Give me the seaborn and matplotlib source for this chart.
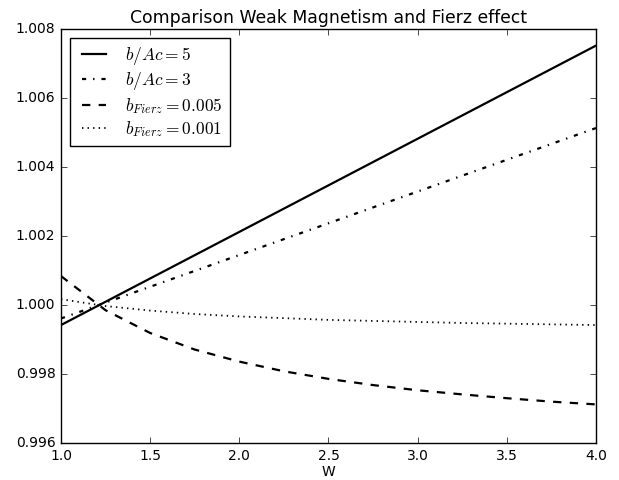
import numpy as np
import pandas as pd
import matplotlib
matplotlib.use("Agg")
import matplotlib.pyplot as plt
import seaborn as sns

# values
w_lin = [1.0, 2.0, 3.0, 4.0]
wm_5 = [0.99942, 1.00212, 1.00482, 1.00752]
wm_3 = [0.99961, 1.00145, 1.00329, 1.00513]

w_fierz = [1.0, 1.25, 1.5, 1.75, 2.0, 2.25, 2.5, 2.75, 3.0, 3.25, 3.5, 3.75, 4.0]
fierz_005 = [1.00084, 0.99985, 0.99919, 0.99871, 0.99836, 0.99808, 0.99786,
             0.99768, 0.99753, 0.99741, 0.99730, 0.99720, 0.99712]
fierz_001 = [1.00017, 0.99997, 0.99984, 0.99974, 0.99967, 0.99962, 0.99957,
             0.99954, 0.99951, 0.99948, 0.99946, 0.99944, 0.99942]

plt.style.use("classic")
plt.rcParams['font.family'] = ['DejaVu Sans']
plt.rcParams['mathtext.fontset'] = 'cm'

fig = plt.figure(figsize=(6.19, 4.8), dpi=100, facecolor='white')
ax = fig.add_axes([0.0985, 0.077, 0.8643, 0.8625])

sns.lineplot(x=w_lin, y=wm_5, ax=ax, color='black', lw=1.6, linestyle='-', label=r'$b/Ac=5$')
sns.lineplot(x=w_lin, y=wm_3, ax=ax, color='black', lw=1.6, linestyle='-.', label=r'$b/Ac=3$')
sns.lineplot(x=w_fierz, y=fierz_005, ax=ax, color='black', lw=1.6, linestyle='--', label=r'$b_{Fierz}=0.005$')
sns.lineplot(x=w_fierz, y=fierz_001, ax=ax, color='black', lw=1.3, linestyle=':', label=r'$b_{Fierz}=0.001$')

ax.set_xlim(1.0, 4.0)
ax.set_ylim(0.996, 1.008)
ax.set_xticks([1.0, 1.5, 2.0, 2.5, 3.0, 3.5, 4.0])
ax.set_yticks([0.996, 0.998, 1.000, 1.002, 1.004, 1.006, 1.008])
ax.ticklabel_format(useOffset=False)
ax.set_xlabel('W', fontsize=10, labelpad=2)
ax.set_ylabel('')
ax.set_title('Comparison Weak Magnetism and Fierz effect', fontsize=12.4, pad=4)
ax.tick_params(labelsize=10)
ax.legend(loc='upper left', fontsize=12.5, fancybox=False, labelspacing=0.2,
          borderaxespad=0.5, handlelength=2.0)

fig.savefig('out.png', dpi=100, facecolor='white')
